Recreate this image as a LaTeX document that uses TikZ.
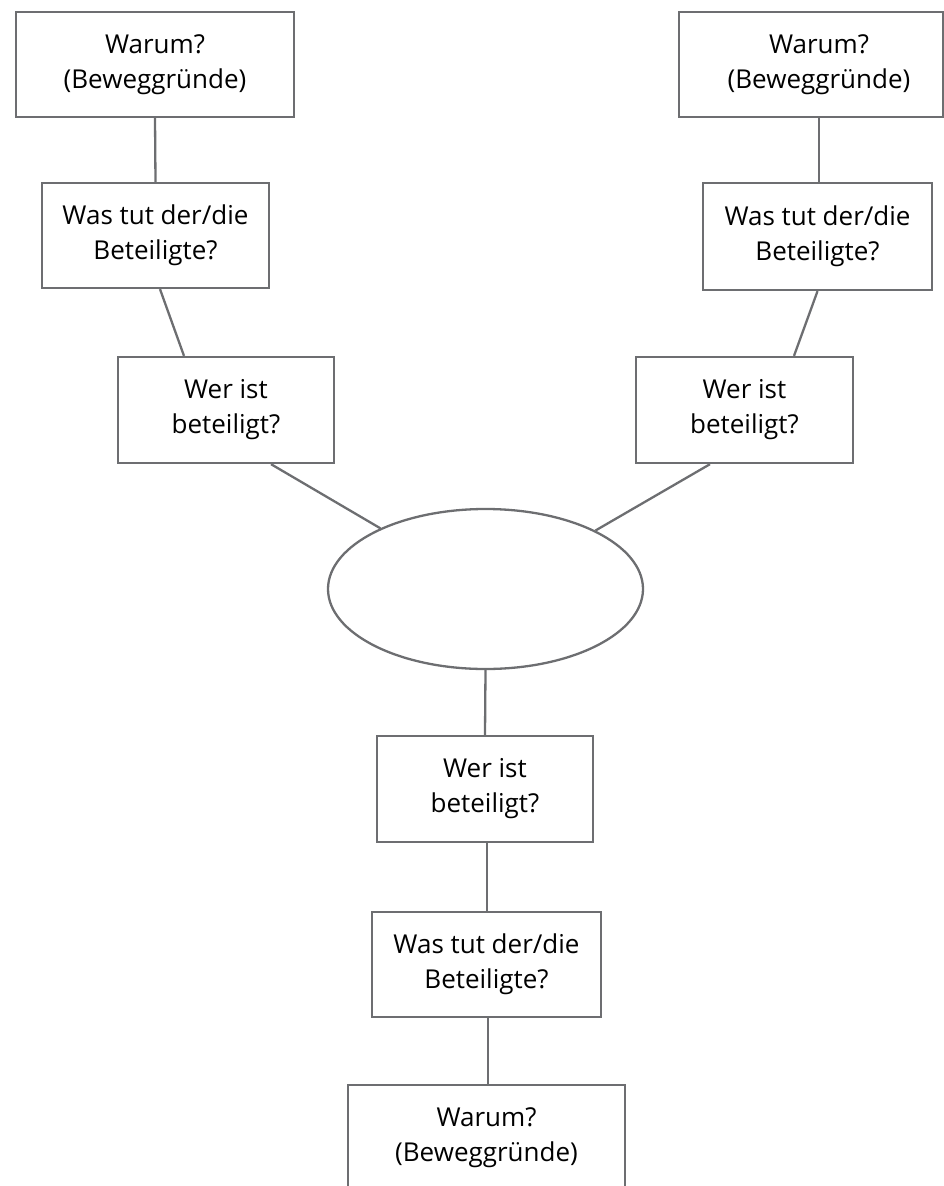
\documentclass[tikz,border=0pt]{standalone}
\usepackage{fontspec}
\setmainfont{Open Sans}
\usepackage{tikz}
\usetikzlibrary{shapes.geometric}
\definecolor{rand}{HTML}{6D6E71}

\begin{document}
\begin{tikzpicture}[x=1pt,y=-1pt, line width=2.3pt, draw=rand,
 box/.style={draw=rand, rectangle, align=center, inner sep=0pt, minimum height=105pt, font=\fontsize{26}{35}\selectfont},
 oval/.style={draw=rand, ellipse, inner sep=0pt, minimum width=315pt, minimum height=160pt}]
\useasboundingbox (0,0) rectangle (944,1186);

\node[box, minimum width=278pt] (wl) at (155,64.5) {Warum?\\(Beweggründe)};
\node[box, minimum width=264pt, label={[font=\fontsize{26}{35}\selectfont, align=center, xshift=8pt]center:Warum?\\(Beweggründe)}] (wr) at (811,64.5) {};
\node[box, minimum width=227pt] (tl) at (155.5,235.5) {Was tut der/die\\Beteiligte?};
\node[box, minimum width=229pt, minimum height=107pt] (tr) at (817.5,236.5) {Was tut der/die\\Beteiligte?};
\node[box, minimum width=216pt, minimum height=106pt] (bl) at (226,410) {Wer ist\\beteiligt?};
\node[box, minimum width=217pt, minimum height=106pt] (br) at (744.5,410) {Wer ist\\beteiligt?};
\node[oval] (el) at (485.5,589) {};
\node[box, minimum width=216pt, minimum height=106pt] (bm) at (485,789) {Wer ist\\beteiligt?};
\node[box, minimum width=229pt] (tm) at (486.5,964.5) {Was tut der/die\\Beteiligte?};
\node[box, minimum width=277pt] (wm) at (486.5,1137.5) {Warum?\\(Beweggründe)};

% linke Seite
\draw[rand] (wl.south) -- (tl.north);
\draw[rand] ([xshift=4.5pt]tl.south) -- ([xshift=-42pt]bl.north);
\draw[rand] ([xshift=45pt]bl.south) -- (el.150);
% rechte Seite
\draw[rand] ([xshift=8pt]wr.south) -- ([xshift=8pt]wr.south |- tr.north);
\draw[rand] (tr.south) -- ([xshift=49.5pt]br.north);
\draw[rand] ([xshift=-34.5pt]br.south) -- (el.28);
% unten
\draw[rand] (el.south) -- (bm.north);
\draw[rand] ([xshift=2pt]bm.south) -- ([xshift=2pt]bm.south |- tm.north);
\draw[rand] ([xshift=1.5pt]tm.south) -- ([xshift=1.5pt]tm.south |- wm.north);
\end{tikzpicture}
\end{document}
